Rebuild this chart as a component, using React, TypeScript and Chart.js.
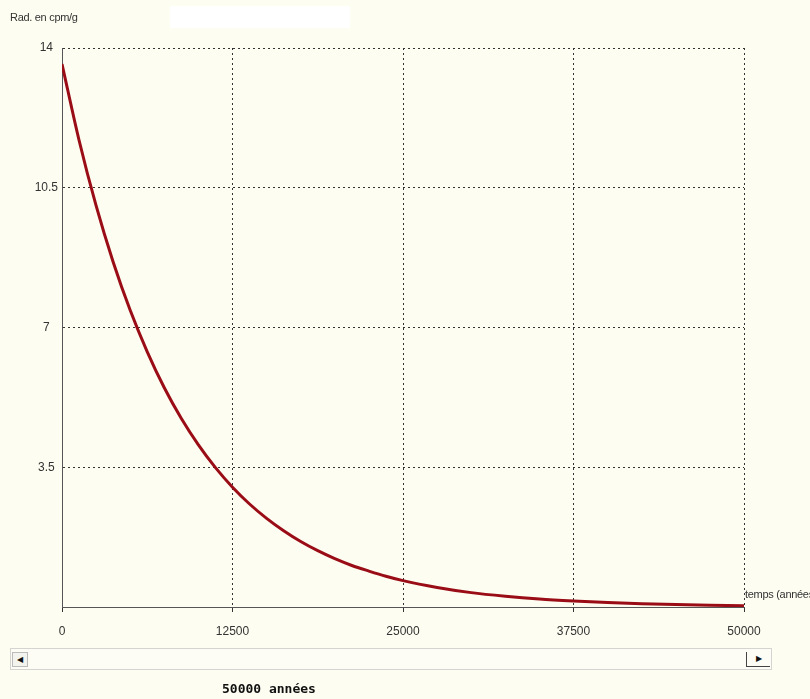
import React, { useEffect, useRef } from "react";
import { Chart, registerables } from "chart.js";
Chart.register(...registerables);

const years = [0, 1250, 2500, 3750, 5000, 6250, 7500, 8750, 10000, 11250, 12500, 13750, 15000, 16250, 17500, 18750, 20000, 21250, 22500, 23750, 25000, 27500, 30000, 32500, 35000, 37500, 40000, 42500, 45000, 47500, 50000];
const radiation = [13.6, 11.69, 10.05, 8.64, 7.43, 6.39, 5.49, 4.72, 4.06, 3.49, 3.0, 2.58, 2.22, 1.91, 1.64, 1.41, 1.21, 1.04, 0.9, 0.77, 0.66, 0.49, 0.36, 0.27, 0.2, 0.15, 0.11, 0.08, 0.06, 0.045, 0.03];
const xTicks = [0, 12500, 25000, 37500, 50000];
const yTicks = [0, 3.5, 7, 10.5, 14];
const yTitle = "Rad. en cpm/g";
const xTitle = "temps (années)";
const footer = "50000 années";

const BG = "#fdfdf1";

export default function App() {
  const ref = useRef<HTMLCanvasElement | null>(null);
  useEffect(() => {
    document.body.style.margin = "0";
    document.body.style.background = BG;
    const ctx = ref.current!.getContext("2d")!;
    const chart = new Chart(ctx, {
      type: "line",
      data: {
        datasets: [
          {
            data: years.map((x, i) => ({ x, y: radiation[i] })),
            borderColor: "#9a0d16",
            borderWidth: 3,
            pointRadius: 0,
            cubicInterpolationMode: "monotone",
            fill: false,
          },
        ],
      },
      options: {
        animation: false,
        responsive: false,
        plugins: { legend: { display: false }, tooltip: { enabled: false } },
        layout: { padding: { left: 0, right: 66, top: 48, bottom: 0 } },
        scales: {
          x: {
            type: "linear",
            min: 0,
            max: 50000,
            afterBuildTicks: (s: any) => {
              s.ticks = xTicks.map((v) => ({ value: v }));
            },
            afterFit: (s: any) => {
              s.height = 92;
            },
            ticks: {
              color: "#333",
              font: { family: "Liberation Sans Narrow, Liberation Sans, Arial", size: 12 },
              padding: 12,
              maxRotation: 0,
              autoSkip: false,
              callback: (v: any) => String(v),
            },
            grid: {
              color: "#333",
              lineWidth: 1,
              tickLength: 5,
              tickColor: "#333",
              tickBorderDash: [1, 0],
              drawTicks: true,
            },
            border: { display: true, color: "#555", width: 1, dash: [2, 3] },
          },
          y: {
            min: 0,
            max: 14,
            afterBuildTicks: (s: any) => {
              s.ticks = yTicks.map((v) => ({ value: v }));
            },
            afterFit: (s: any) => {
              s.width = 62;
            },
            ticks: {
              color: "#333",
              font: { family: "Liberation Sans Narrow, Liberation Sans, Arial", size: 12 },
              crossAlign: "center",
              padding: 4,
              callback: (v: any) => (v === 0 ? "" : String(v)),
            },
            grid: {
              color: "#333",
              lineWidth: 1,
              drawTicks: false,
            },
            border: { display: true, color: "#555", width: 1, dash: [2, 3] },
          },
        },
      },
    });
    return () => chart.destroy();
  }, []);

  return (
    <div style={{ position: "relative", width: 810, height: 699, background: BG, overflow: "hidden", fontFamily: "Liberation Sans, Arial" }}>
      <div style={{ position: "absolute", left: 170, top: 6, width: 180, height: 22, background: "#ffffff" }} />
      <canvas ref={ref} width={810} height={699} style={{ position: "absolute", left: 0, top: 0 }} />
      <div style={{ position: "absolute", left: 10, top: 11, fontSize: 11, color: "#333", fontFamily: "Liberation Sans Narrow, Liberation Sans", letterSpacing: -0.3 }}>{yTitle}</div>
      <div style={{ position: "absolute", left: 745, top: 588, fontSize: 11, color: "#333", whiteSpace: "nowrap", fontFamily: "Liberation Sans Narrow, Liberation Sans", letterSpacing: -0.3 }}>{xTitle}</div>
      <div style={{ position: "absolute", left: 10, top: 648, width: 762, height: 22, border: "1px solid #d4d4d0", boxSizing: "border-box", background: "#fdfdf6" }} />
      <div style={{ position: "absolute", left: 12, top: 652, width: 16, height: 15, border: "1px solid #bbb", boxSizing: "border-box", background: "#f4f4ee", fontSize: 8, lineHeight: "13px", textAlign: "center", color: "#111" }}>◀</div>
      <div style={{ position: "absolute", left: 746, top: 652, width: 24, height: 15, borderLeft: "1px solid #444", borderBottom: "1px solid #444", boxSizing: "border-box", background: "#fdfdf6", fontSize: 8, lineHeight: "13px", textAlign: "center", color: "#111" }}>▶</div>
      <div style={{ position: "absolute", left: 222, top: 681, fontSize: 13, fontWeight: "bold", color: "#111", fontFamily: "DejaVu Sans Mono, monospace", letterSpacing: 0 }}>{footer}</div>
    </div>
  );
}
